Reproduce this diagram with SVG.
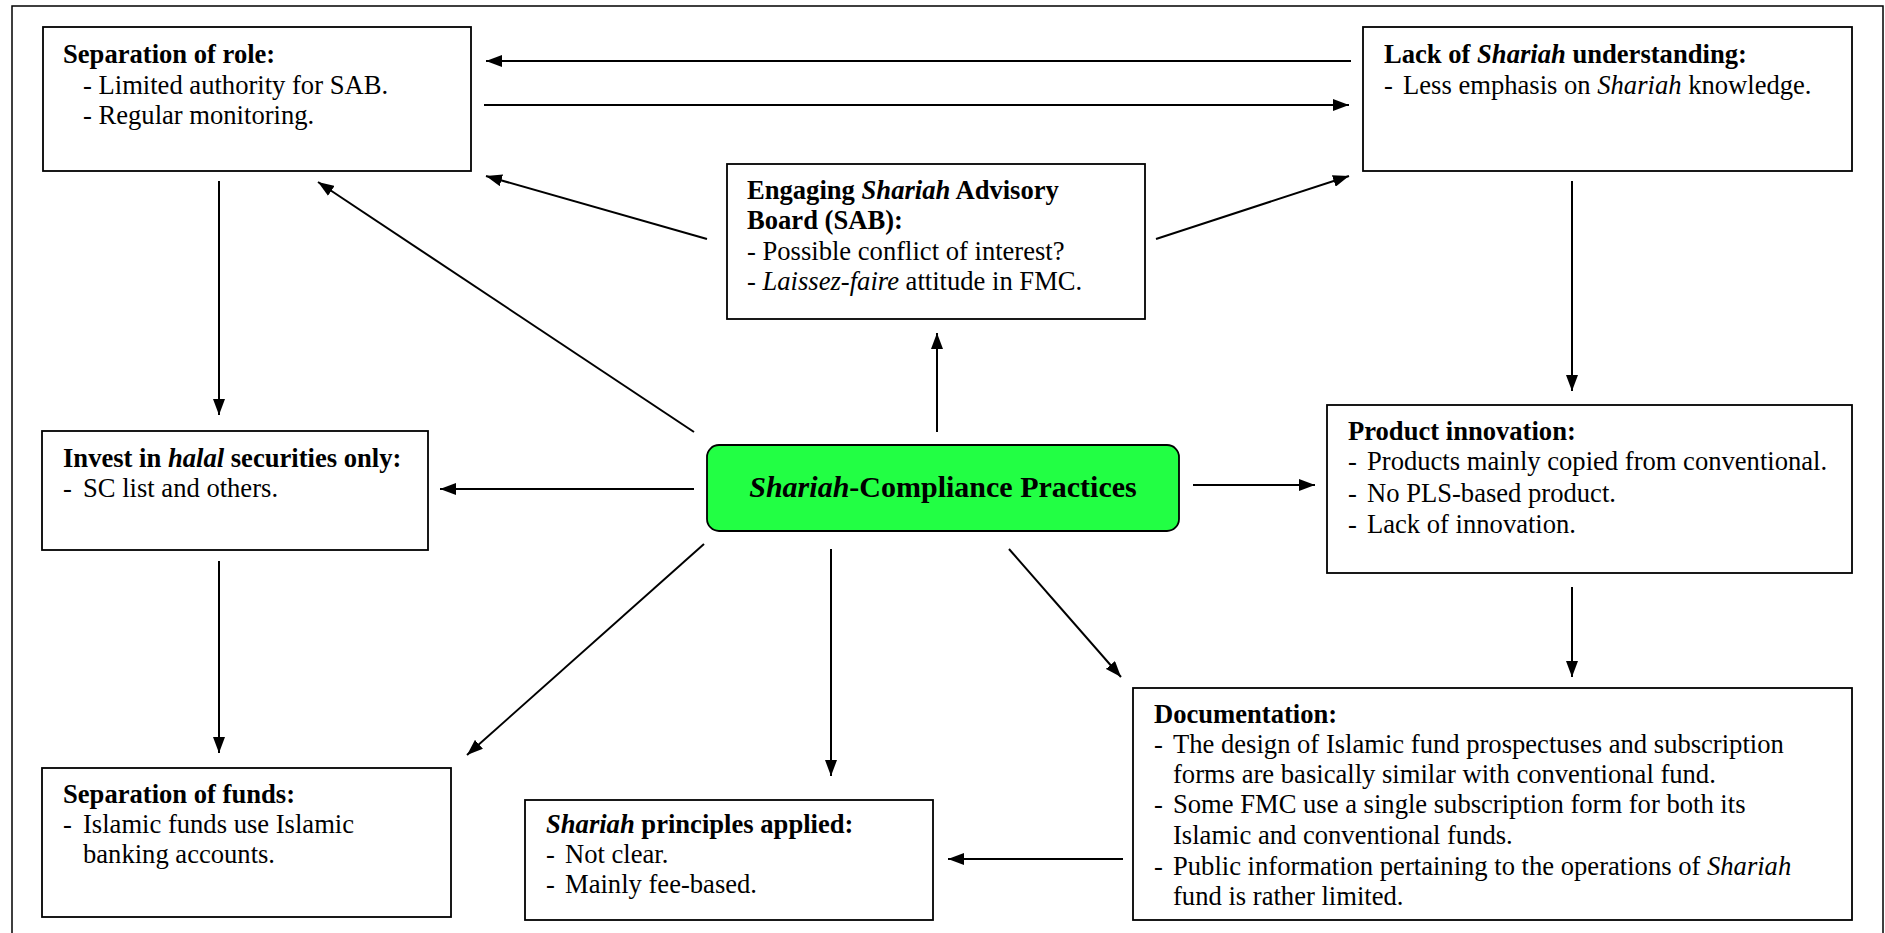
<svg xmlns="http://www.w3.org/2000/svg" width="1885" height="933" viewBox="0 0 1885 933">
<style>
.box{fill:#fff;stroke:#000;stroke-width:1.8}
.t{font-family:"Liberation Serif","Times New Roman",serif;font-size:26.6px;fill:#000}
.b{font-weight:bold}
.i{font-style:italic}
.c{fill:none;stroke:#000;stroke-width:2;marker-end:url(#ah)}
</style>
<defs>
<marker id="ah" markerUnits="userSpaceOnUse" markerWidth="16" markerHeight="12" refX="16" refY="6" orient="auto">
<path d="M0,0 L16,6 L0,12 z" fill="#000"/>
</marker>
</defs>
<rect x="0" y="0" width="1885" height="933" fill="#fff"/>
<rect x="12" y="6" width="1871" height="960" fill="none" stroke="#000" stroke-width="1.5"/>

<g id="connectors">
<path class="c" d="M1351,61 L486,61"/>
<path class="c" d="M484,105 L1349,105"/>
<path class="c" d="M707,239 L486,176"/>
<path class="c" d="M1156,239 L1349,176"/>
<path class="c" d="M937,432 L937,333"/>
<path class="c" d="M694,432 L318,182"/>
<path class="c" d="M219,181 L219,415"/>
<path class="c" d="M1572,181 L1572,391"/>
<path class="c" d="M694,489 L440,489"/>
<path class="c" d="M1193,485 L1315,485"/>
<path class="c" d="M219,561 L219,753"/>
<path class="c" d="M704,544 L467,755"/>
<path class="c" d="M831,549 L831,776"/>
<path class="c" d="M1009,549 L1121,677"/>
<path class="c" d="M1572,587 L1572,677"/>
<path class="c" d="M1123,859 L948,859"/>
</g>

<g id="sep-role">
<rect class="box" x="43" y="27" width="428" height="144"/>
<text class="t b" x="63" y="63">Separation of role:</text>
<text class="t" x="83" y="93.5">- Limited authority for SAB.</text>
<text class="t" x="83" y="124">- Regular monitoring.</text>
</g>

<g id="sab">
<rect class="box" x="727" y="164" width="418" height="155"/>
<text class="t b" x="747" y="199">Engaging <tspan class="i">Shariah</tspan> Advisory</text>
<text class="t b" x="747" y="229">Board (SAB):</text>
<text class="t" x="747" y="260">- Possible conflict of interest?</text>
<text class="t" x="747" y="290">- <tspan class="i">Laissez-faire</tspan> attitude in FMC.</text>
</g>

<g id="lack">
<rect class="box" x="1363" y="27" width="489" height="144"/>
<text class="t b" x="1384" y="63">Lack of <tspan class="i">Shariah</tspan> understanding:</text>
<text class="t" x="1384" y="93.5">-</text>
<text class="t" x="1403" y="93.5">Less emphasis on <tspan class="i">Shariah</tspan> knowledge.</text>
</g>

<g id="invest">
<rect class="box" x="42" y="431" width="386" height="119"/>
<text class="t b" x="63" y="467">Invest in <tspan class="i">halal</tspan> securities only:</text>
<text class="t" x="63" y="497">-</text>
<text class="t" x="83" y="497">SC list and others.</text>
</g>

<g id="center">
<rect x="707" y="445" width="472" height="86" rx="12" ry="12" fill="#22ff44" stroke="#000" stroke-width="1.8"/>
<text class="t b" x="943" y="497" text-anchor="middle" style="font-size:30px"><tspan class="i">Shariah</tspan>-Compliance Practices</text>
</g>

<g id="product">
<rect class="box" x="1327" y="405" width="525" height="168"/>
<text class="t b" x="1348" y="440">Product innovation:</text>
<text class="t" x="1348" y="470">-</text>
<text class="t" x="1367" y="470">Products mainly copied from conventional.</text>
<text class="t" x="1348" y="502">-</text>
<text class="t" x="1367" y="502">No PLS-based product.</text>
<text class="t" x="1348" y="533">-</text>
<text class="t" x="1367" y="533">Lack of innovation.</text>
</g>

<g id="sep-funds">
<rect class="box" x="42" y="768" width="409" height="149"/>
<text class="t b" x="63" y="803">Separation of funds:</text>
<text class="t" x="63" y="833">-</text>
<text class="t" x="83" y="833">Islamic funds use Islamic</text>
<text class="t" x="83" y="863">banking accounts.</text>
</g>

<g id="principles">
<rect class="box" x="525" y="800" width="408" height="120"/>
<text class="t b" x="546" y="833"><tspan class="i">Shariah</tspan> principles applied:</text>
<text class="t" x="546" y="863">-</text>
<text class="t" x="565" y="863">Not clear.</text>
<text class="t" x="546" y="893">-</text>
<text class="t" x="565" y="893">Mainly fee-based.</text>
</g>

<g id="documentation">
<rect class="box" x="1133" y="688" width="719" height="232"/>
<text class="t b" x="1154" y="723">Documentation:</text>
<text class="t" x="1154" y="753">-</text>
<text class="t" x="1173" y="753">The design of Islamic fund prospectuses and subscription</text>
<text class="t" x="1173" y="783">forms are basically similar with conventional fund.</text>
<text class="t" x="1154" y="813">-</text>
<text class="t" x="1173" y="813">Some FMC use a single subscription form for both its</text>
<text class="t" x="1173" y="844">Islamic and conventional funds.</text>
<text class="t" x="1154" y="875">-</text>
<text class="t" x="1173" y="875">Public information pertaining to the operations of <tspan class="i">Shariah</tspan></text>
<text class="t" x="1173" y="905">fund is rather limited.</text>
</g>
</svg>
